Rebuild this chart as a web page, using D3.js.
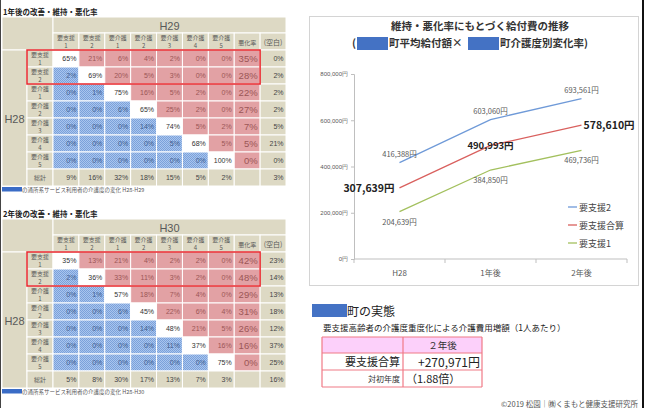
<!DOCTYPE html>
<html>
<head>
<meta charset="utf-8">
<script src="https://cdn.jsdelivr.net/npm/d3@7"></script>
<style>
  body { margin: 0; background: #fff; }
  svg { display: block; font-family: "Noto Sans CJK JP", "Noto Sans", sans-serif; }
</style>
</head>
<body>
<svg width="648" height="408"></svg>
<script>
// table headers
var colKeys = ["要支援1", "要支援2", "要介護1", "要介護2", "要介護3", "要介護4", "要介護5", "悪化率", "(空白)"];
var colLines = [["要支援", "1"], ["要支援", "2"], ["要介護", "1"], ["要介護", "2"], ["要介護", "3"],
    ["要介護", "4"], ["要介護", "5"], ["悪化率"], ["(空白)"]];
var rowKeys = ["要支援1", "要支援2", "要介護1", "要介護2", "要介護3", "要介護4", "要介護5", "総計"];

// 1年後 (H28 -> H29), percent
var year1Cells = [
    [65, 21, 6, 4, 2, 0, 0],
    [2, 69, 20, 5, 3, 0, 0],
    [0, 1, 75, 16, 5, 2, 0],
    [0, 0, 6, 65, 25, 2, 0],
    [0, 0, 0, 14, 74, 5, 2],
    [0, 0, 0, 0, 5, 68, 5],
    [0, 0, 0, 0, 0, 0, 100]
];
var year1Worse = [35, 28, 22, 27, 7, 5, 0];
var year1Blank = [0, 2, 2, 2, 5, 21, 0];
var year1Totals = [9, 16, 32, 18, 15, 5, 2];
var year1TotalBlank = 3;

// 2年後 (H28 -> H30), percent
var year2Cells = [
    [35, 13, 21, 4, 2, 2, 0],
    [2, 36, 33, 11, 3, 2, 0],
    [0, 1, 57, 18, 7, 4, 0],
    [0, 0, 6, 45, 22, 6, 4],
    [0, 0, 0, 14, 48, 21, 5],
    [0, 0, 0, 0, 11, 37, 16],
    [0, 0, 0, 0, 0, 0, 75]
];
var year2Worse = [42, 48, 29, 31, 26, 16, 0];
var year2Blank = [23, 14, 13, 18, 12, 37, 25];
var year2Totals = [5, 8, 30, 17, 13, 7, 3];
var year2TotalBlank = 16;

// line chart
var periods = ["H28", "1年後", "2年後"];
var seriesNames = ["要支援2", "要支援合算", "要支援1"];
var shien2 = [416388, 603060, 693561];
var shienTotal = [307639, 490993, 578610];
var shien1 = [204639, 384850, 469736];
var yTicks = [0, 200000, 400000, 600000, 800000];

// summary table
var summaryHead = "２年後";
var summaryLabels = ["要支援合算", "対初年度"];
var summaryValues = ["+270,971円", "（1.88倍）"];

var beige = "#ddd9c4",
    red = "#e2a1a4",
    redText = "#9b5656",
    blueText = "#3f5d8e",
    greyText = "#595959";

var svg = d3.select("svg");

var defs = svg.append("defs");
var pat = defs.append("pattern").attr("id", "bluedots")
    .attr("width", 2).attr("height", 2).attr("patternUnits", "userSpaceOnUse");
pat.append("rect").attr("width", 2).attr("height", 2).attr("fill", "#a9c5ee");
pat.append("rect").attr("width", 1).attr("height", 1).attr("fill", "#7ba1da");
pat.append("rect").attr("x", 1).attr("y", 1).attr("width", 1).attr("height", 1).attr("fill", "#7ba1da");

// page borders
svg.append("line").attr("x1", 0.5).attr("x2", 0.5).attr("y1", 0).attr("y2", 408)
    .attr("stroke", "#444").attr("stroke-width", 1);
svg.append("line").attr("x1", 643).attr("x2", 643).attr("y1", 0).attr("y2", 408)
    .attr("stroke", "#111").attr("stroke-width", 2);

function drawTable(oy, title, yearLabel, cells, worse, blank, totals, totalBlank, caption) {
    var g = svg.append("g").attr("transform", "translate(0," + oy + ")");
    var x = d3.scaleBand().domain(colKeys).range([53, 286]);
    var y = d3.scaleBand().domain(rowKeys).range([50, 186]);

    g.append("text").attr("x", 3).attr("y", 14.5)
        .attr("font-size", 7.5).attr("font-weight", "bold").attr("fill", "#222")
        .text(title);

    function cell(cx, cy, w, h, fill) {
        g.append("rect").attr("x", cx).attr("y", cy).attr("width", w).attr("height", h)
            .attr("fill", fill).attr("stroke", "#fff").attr("stroke-width", 1);
    }

    cell(2, 17, 51, 33, beige);
    cell(53, 17, 233, 16, beige);
    g.append("text").attr("x", x.range()[0] + (x.range()[1] - x.range()[0]) / 2).attr("y", 29.5)
        .attr("text-anchor", "middle").attr("font-size", 11).attr("fill", greyText)
        .attr("font-family", "Liberation Sans, sans-serif")
        .text(yearLabel);

    colKeys.forEach(function (c, j) {
        cell(x(c), 33, x.bandwidth(), 17, beige);
        var lines = colLines[j];
        lines.forEach(function (t, k) {
            g.append("text")
                .attr("x", x(c) + x.bandwidth() / 2)
                .attr("y", lines.length === 1 ? 44.5 : 40 + k * 7.5)
                .attr("text-anchor", "middle")
                .attr("font-size", lines.length === 1 && j === 8 ? 7 : 6)
                .attr("fill", greyText).text(t);
        });
    });

    // merged H28 cell
    cell(2, 50, 25, 136, beige);
    g.append("text").attr("x", 14.5).attr("y", y.range()[0] + 68 + 4.5)
        .attr("text-anchor", "middle").attr("font-size", 11).attr("fill", greyText)
        .attr("font-family", "Liberation Sans, sans-serif")
        .text("H28");

    rowKeys.forEach(function (r, i) {
        var ry = y(r), rh = y.bandwidth();
        cell(27, ry, 26, rh, beige);
        if (i < 7) {
            var lab = [r.slice(0, 3), r.slice(3)];
            lab.forEach(function (t, k) {
                g.append("text").attr("x", 40).attr("y", ry + 7 + k * 7.5)
                    .attr("text-anchor", "middle").attr("font-size", 6)
                    .attr("fill", greyText).text(t);
            });
        } else {
            g.append("text").attr("x", 40).attr("y", ry + rh / 2 + 2.5)
                .attr("text-anchor", "middle").attr("font-size", 6)
                .attr("fill", greyText).text(r);
        }

        colKeys.forEach(function (c, j) {
            var fill, txt, col, size = 7;
            if (i === 7) {
                fill = beige; col = "#444";
                txt = j < 7 ? totals[j] + "%" : (j === 8 ? totalBlank + "%" : "");
            } else if (j < 7) {
                var v = cells[i][j];
                txt = v + "%";
                if (j < i) { fill = "url(#bluedots)"; col = blueText; }
                else if (j === i) { fill = "#fff"; col = "#333"; }
                else { fill = red; col = redText; }
            } else if (j === 7) {
                fill = red; col = redText; txt = worse[i] + "%"; size = 9.5;
            } else {
                fill = beige; col = "#444"; txt = blank[i] + "%";
            }
            cell(x(c), ry, x.bandwidth(), rh, fill);
            g.append("text").attr("x", x(c) + x.bandwidth() - 2.5)
                .attr("y", ry + rh / 2 + size * 0.36)
                .attr("text-anchor", "end").attr("font-size", size)
                .attr("font-family", "Liberation Sans, sans-serif")
                .attr("fill", col).text(txt);
        });
    });

    // red frame around 要支援 rows
    g.append("rect").attr("x", 27).attr("y", y("要支援1"))
        .attr("width", x("悪化率") + x.bandwidth() - 27)
        .attr("height", y.bandwidth() * 2)
        .attr("fill", "none").attr("stroke", "#e8262b").attr("stroke-width", 1.5);

    // caption
    g.append("rect").attr("x", 2).attr("y", 187).attr("width", 20).attr("height", 4.5)
        .attr("fill", "#3a6cc6");
    g.append("text").attr("x", 22).attr("y", 191.5).attr("font-size", 5.5)
        .attr("fill", "#555").text(caption);
}

drawTable(0, "1年後の改善・維持・悪化率", "H29", year1Cells, year1Worse, year1Blank,
    year1Totals, year1TotalBlank, "の通所系サービス利用者の介護度の変化  H28-H29");
drawTable(202, "2年後の改善・維持・悪化率", "H30", year2Cells, year2Worse, year2Blank,
    year2Totals, year2TotalBlank, "の通所系サービス利用者の介護度の変化  H28-H30");

// ---- line chart ----
svg.append("rect").attr("x", 309.5).attr("y", 16.5).attr("width", 329).attr("height", 269)
    .attr("fill", "#fff").attr("stroke", "#d4d4d4");

svg.append("text").attr("x", 480).attr("y", 30).attr("text-anchor", "middle")
    .attr("font-size", 10.5).attr("font-weight", "bold").attr("fill", "#333")
    .text("維持・悪化率にもとづく給付費の推移");
var t2 = svg.append("text").attr("y", 47).attr("font-size", 10.5).attr("font-weight", "bold").attr("fill", "#333");
t2.append("tspan").attr("x", 352).text("(");
t2.append("tspan").attr("x", 389).text("町平均給付額×");
t2.append("tspan").attr("x", 500).text("町介護度別変化率)");
svg.append("rect").attr("x", 357).attr("y", 37).attr("width", 31).attr("height", 13).attr("fill", "#4472c4");
svg.append("rect").attr("x", 468).attr("y", 37).attr("width", 31).attr("height", 13).attr("fill", "#4472c4");

var x = d3.scaleBand().domain(periods).range([354, 627]);
var y = d3.scaleLinear().domain([0, 800000]).range([259, 74]);
var yen = function (d) { return d3.format(",")(d) + "円"; };

var yAxis = svg.append("g").attr("transform", "translate(354,0)")
    .call(d3.axisLeft(y).tickValues(yTicks).tickSize(3).tickFormat(yen));
yAxis.select(".domain").attr("stroke", "#bfbfbf");
yAxis.selectAll(".tick line").attr("stroke", "#bfbfbf");
yAxis.selectAll(".tick text").attr("font-size", 6).attr("fill", greyText)
    .attr("font-family", "Liberation Sans, sans-serif");

svg.append("line").attr("x1", 354).attr("x2", 627).attr("y1", y(0)).attr("y2", y(0))
    .attr("stroke", "#bfbfbf");
periods.concat([null]).forEach(function (p, i) {
    var px = p ? x(p) : x.range()[1];
    svg.append("line").attr("x1", px).attr("x2", px).attr("y1", y(0)).attr("y2", y(0) + 4)
        .attr("stroke", "#bfbfbf");
});
periods.forEach(function (p) {
    svg.append("text").attr("x", x(p) + x.bandwidth() / 2).attr("y", 276)
        .attr("text-anchor", "middle").attr("font-size", 8).attr("fill", greyText).text(p);
});

var series = [
    { name: seriesNames[0], values: shien2, color: "#6f9ad8" },
    { name: seriesNames[1], values: shienTotal, color: "#d9605e" },
    { name: seriesNames[2], values: shien1, color: "#a3c05e" }
];
var line = d3.line()
    .x(function (d, i) { return x(periods[i]) + x.bandwidth() / 2; })
    .y(function (d) { return y(d); });

series.forEach(function (s) {
    svg.append("path").datum(s.values).attr("d", line)
        .attr("fill", "none").attr("stroke", s.color).attr("stroke-width", 1.3);
});

// value labels
function px(i) { return x(periods[i]) + x.bandwidth() / 2; }
shien2.forEach(function (v, i) {
    svg.append("text").attr("x", px(i)).attr("y", y(v) - 6).attr("text-anchor", "middle")
        .attr("font-size", 7.5).attr("fill", greyText).text(yen(v));
});
shien1.forEach(function (v, i) {
    svg.append("text").attr("x", px(i)).attr("y", y(v) + 13).attr("text-anchor", "middle")
        .attr("font-size", 7.5).attr("fill", greyText).text(yen(v));
});
var totalAnchor = ["end", "middle", "start"],
    totalDx = [-5, 0, 2],
    totalSize = [10.5, 9.5, 10.5];
shienTotal.forEach(function (v, i) {
    svg.append("text").attr("x", px(i) + totalDx[i]).attr("y", y(v) + 4)
        .attr("text-anchor", totalAnchor[i]).attr("font-size", totalSize[i])
        .attr("font-weight", "bold").attr("fill", "#222").text(yen(v));
});

// legend
series.forEach(function (s, i) {
    var ly = 207 + i * 18;
    svg.append("line").attr("x1", 568).attr("x2", 577).attr("y1", ly).attr("y2", ly)
        .attr("stroke", s.color).attr("stroke-width", 1.3);
    svg.append("text").attr("x", 579).attr("y", ly + 3.5).attr("font-size", 9)
        .attr("fill", "#444").text(s.name);
});

// ---- summary ----
svg.append("rect").attr("x", 312).attr("y", 304).attr("width", 35).attr("height", 13).attr("fill", "#4472c4");
svg.append("text").attr("x", 347).attr("y", 316).attr("font-size", 12).attr("fill", "#222").text("町の実態");
svg.append("text").attr("x", 323).attr("y", 331).attr("font-size", 8.5).attr("fill", "#222")
    .text("要支援高齢者の介護度重度化による介護費用増額（1人あたり）");

var sx = [322, 403, 482], sy = [337, 353, 370, 387];
svg.append("rect").attr("x", sx[0]).attr("y", sy[0]).attr("width", sx[2] - sx[0]).attr("height", sy[1] - sy[0])
    .attr("fill", "#fcd0fa");
sy.forEach(function (yy) {
    svg.append("line").attr("x1", sx[0]).attr("x2", sx[2]).attr("y1", yy).attr("y2", yy)
        .attr("stroke", "#f07a86").attr("stroke-width", 1.2);
});
sx.forEach(function (xx) {
    svg.append("line").attr("x1", xx).attr("x2", xx).attr("y1", sy[0]).attr("y2", sy[3])
        .attr("stroke", "#f07a86").attr("stroke-width", 1.2);
});
svg.append("text").attr("x", (sx[1] + sx[2]) / 2).attr("y", 349).attr("text-anchor", "middle")
    .attr("font-size", 9.5).attr("fill", "#333").text(summaryHead);
svg.append("text").attr("x", 400).attr("y", 366).attr("text-anchor", "end")
    .attr("font-size", 11).attr("fill", "#222").text(summaryLabels[0]);
svg.append("text").attr("x", 400).attr("y", 382).attr("text-anchor", "end")
    .attr("font-size", 8).attr("fill", "#333").text(summaryLabels[1]);
svg.append("text").attr("x", 480).attr("y", 366.5).attr("text-anchor", "end")
    .attr("font-size", 12).attr("fill", "#222").text(summaryValues[0]);
svg.append("text").attr("x", 406).attr("y", 383).attr("text-anchor", "start")
    .attr("font-size", 11).attr("fill", "#222").text(summaryValues[1]);

svg.append("text").attr("x", 638).attr("y", 407).attr("text-anchor", "end")
    .attr("font-size", 7.5).attr("fill", "#555").text("©2019 松園｜㈱くまもと健康支援研究所");
</script>
</body>
</html>
